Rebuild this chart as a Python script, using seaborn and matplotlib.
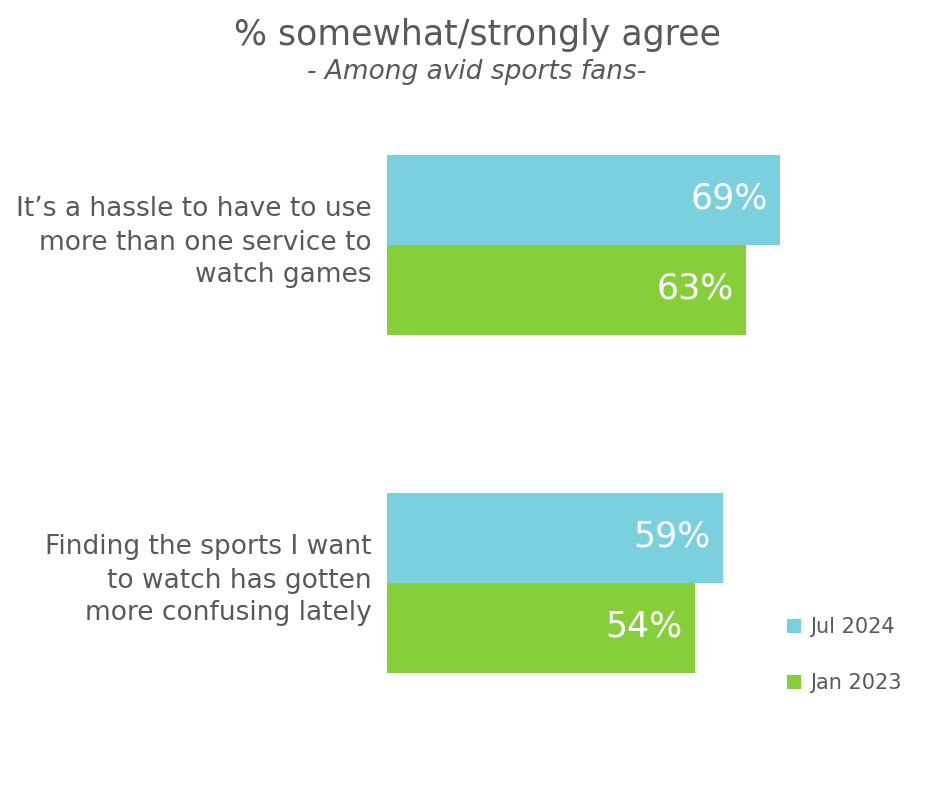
import matplotlib
matplotlib.use("Agg")
import matplotlib.pyplot as plt
import matplotlib.transforms as mtransforms
import seaborn as sns
import pandas as pd

statements = [
    "It\u2019s a hassle to have to use\nmore than one service to\nwatch games",
    "Finding the sports I want\nto watch has gotten\nmore confusing lately",
]
waves = ["Jul 2024", "Jan 2023"]
jul_2024 = [69, 59]
jan_2023 = [63, 54]
colors = ["#7BD0E0", "#86CF3A"]

df = pd.DataFrame({
    "statement": statements * 2,
    "wave": [waves[0]] * 2 + [waves[1]] * 2,
    "value": jul_2024 + jan_2023,
})

sns.set_style("white")
plt.rcParams["font.family"] = ["DejaVu Sans"]
gray = "#595959"

W, H = 938, 802
fig = plt.figure(figsize=(W / 100, H / 100), dpi=100)
left_px, right_px = 387, 938
top_px, bot_px = 100, 760
ax = fig.add_axes([left_px / W, 1 - bot_px / H, (right_px - left_px) / W, (bot_px - top_px) / H])

sns.barplot(data=df, y="statement", x="value", hue="wave", hue_order=waves,
            palette=colors, orient="h", width=0.533, ax=ax, saturation=1,
            edgecolor="none", linewidth=0)

px_per_unit = 5.70
ax.set_xlim(0, (right_px - left_px) / px_per_unit)
spacing = 338.0
ax.set_ylim(1 + (bot_px - 583) / spacing, -(245 - top_px) / spacing)

for s in ax.spines.values():
    s.set_visible(False)
ax.set_xticks([])
ax.set_xlabel("")
ax.set_ylabel("")
ax.tick_params(axis="y", length=0, pad=11)
shift = mtransforms.ScaledTranslation(0, 9 / 100, fig.dpi_scale_trans)
for lab in ax.get_yticklabels():
    lab.set_fontsize(19)
    lab.set_color(gray)
    lab.set_horizontalalignment("right")
    lab.set_linespacing(1.35)
    lab.set_transform(lab.get_transform() + shift)

for cont in ax.containers:
    for patch, v in zip(cont.patches, cont.datavalues):
        ax.annotate(f"{v:.0f}%", (patch.get_x() + patch.get_width(),
                                  patch.get_y() + patch.get_height() / 2),
                    xytext=(-9, 1), textcoords="offset points",
                    ha="right", va="center", color="white", fontsize=25)

leg = ax.legend(loc="upper left", bbox_to_anchor=(787 / W, 1 - 617 / H),
                bbox_transform=fig.transFigure, frameon=False, fontsize=15,
                handlelength=0.65, handleheight=0.65, handletextpad=0.45,
                labelspacing=1.75, borderpad=0, borderaxespad=0)
for t in leg.get_texts():
    t.set_color(gray)

fig.text(477 / W, 1 - 35 / H, "% somewhat/strongly agree", ha="center", va="center",
         fontsize=25, color=gray)
fig.text(477 / W, 1 - 72 / H, "- Among avid sports fans-", ha="center", va="center",
         fontsize=19, color=gray, style="italic")

fig.savefig("out.png", dpi=100, facecolor="white")
